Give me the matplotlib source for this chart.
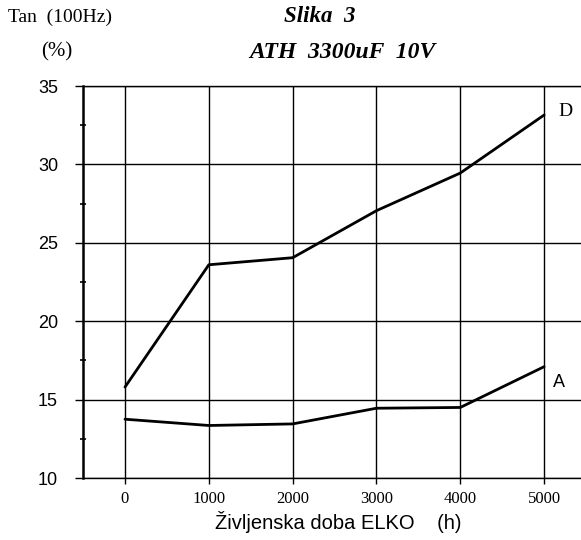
import matplotlib
matplotlib.use("Agg")
import matplotlib.pyplot as plt
from matplotlib.ticker import FixedLocator

hours = [0, 1000, 2000, 3000, 4000, 5000]
tan_D = [15.8, 23.6, 24.05, 27.05, 29.45, 33.15]
tan_A = [13.75, 13.35, 13.45, 14.45, 14.5, 17.1]
yticks = [10, 15, 20, 25, 30, 35]
yminor = [12.5, 17.5, 22.5, 27.5, 32.5]

fig = plt.figure(figsize=(5.81, 5.40), dpi=100)
ax = fig.add_axes([0.143, 0.1148, 1 - 0.143, 0.8407 - 0.1148])

ax.plot(hours, tan_D, color="black", lw=2.0, solid_capstyle="round", solid_joinstyle="round")
ax.plot(hours, tan_A, color="black", lw=2.0, solid_capstyle="round", solid_joinstyle="round")

ax.set_xlim(-500, 5440)
ax.set_ylim(10, 35)
ax.set_xticks(hours)
ax.set_yticks(yticks)
ax.yaxis.set_minor_locator(FixedLocator(yminor))
ax.grid(True, which="major", color="black", lw=1.0)
ax.set_axisbelow(True)

ax.spines["right"].set_visible(False)
ax.spines["left"].set_linewidth(1.8)
ax.spines["bottom"].set_linewidth(1.0)
ax.spines["top"].set_linewidth(1.0)

ax.tick_params(axis="y", which="major", direction="out", length=6, width=1.0, pad=12)
ax.tick_params(axis="y", which="minor", direction="inout", length=5, width=1.2)
ax.tick_params(axis="x", which="major", direction="out", length=4, width=1.0, pad=5)

for lbl in ax.get_yticklabels():
    lbl.set_fontfamily("Liberation Sans")
    lbl.set_fontsize(13)
for lbl in ax.get_xticklabels():
    lbl.set_fontfamily("Liberation Serif")
    lbl.set_fontsize(12)

ax.set_xlabel("Življenska doba ELKO    (h)", fontfamily="Liberation Sans", fontsize=14.5)
ax.xaxis.set_label_coords(0.512, -0.085)

fig.text(8 / 581, 1 - 17 / 540, "Tan  (100Hz)", fontfamily="Liberation Serif", fontsize=14, va="center", ha="left")
fig.text(57 / 581, 1 - 52 / 540, "(%)", fontfamily="Liberation Serif", fontsize=15, va="center", ha="center")
fig.text(320 / 581, 1 - 17 / 540, "Slika  3", fontfamily="Liberation Serif", fontsize=16.5,
         fontweight="bold", fontstyle="italic", va="center", ha="center")
fig.text(342 / 581, 1 - 52 / 540, "ATH  3300uF  10V", fontfamily="Liberation Serif", fontsize=17,
         fontweight="bold", fontstyle="italic", va="center", ha="center")

ax.text(5250, 33.4, "D", fontfamily="Liberation Serif", fontsize=14, va="center", ha="center")
ax.text(5180, 16.1, "A", fontfamily="Liberation Sans", fontsize=13, va="center", ha="center")

fig.savefig("out.png", dpi=100, facecolor="white")
